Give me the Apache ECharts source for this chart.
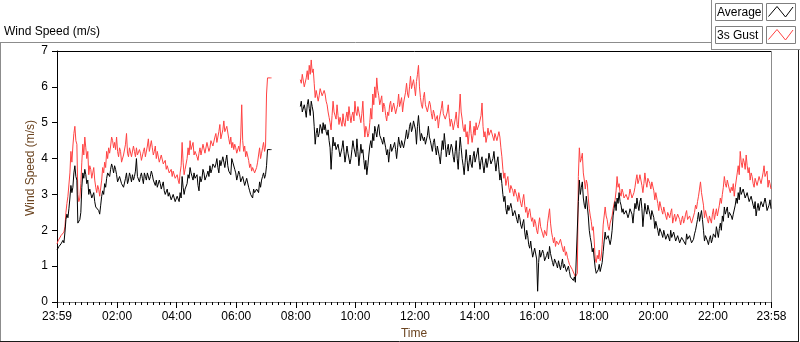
<!DOCTYPE html>
<html>
<head>
<meta charset="utf-8">
<script src="https://cdn.jsdelivr.net/npm/echarts@6/dist/echarts.min.js"></script>
<style>
html,body{margin:0;padding:0;background:#fff;}
#chart{width:800px;height:342px;}
</style>
</head>
<body>
<div id="chart"></div>
<script>
// Sampling interval of the record, minutes after 23:59 (index * step)
const sampleStepMin = 2;

// Tick positions (minutes after 23:59) and their labels
const timeTickMinutes = [0, 121, 241, 361, 481, 601, 721, 841, 961, 1081, 1201, 1321, 1439];
const timeTickLabels = ['23:59', '02:00', '04:00', '06:00', '08:00', '10:00', '12:00', '14:00', '16:00', '18:00', '20:00', '22:00', '23:58'];
const yTickValues = [0, 1, 2, 3, 4, 5, 6, 7];

const seriesNames = ['Average', '3s Gust'];

// Average wind speed (m/s), one value every 2 minutes from 23:59
const average = [
  1.45,1.4,1.55,1.5,1.62,1.58,1.72,1.65,1.95,2.3,2.45,2.35,2.6,2.9,3.25,3.05,3.2,3.6,3.8,3.5,
  3.4,2.2,2.15,2.3,2.5,3.2,3.6,3.45,3.7,3.55,3.3,3.4,3.0,3.15,3.2,2.9,2.95,3.05,2.8,2.65,
  2.6,2.7,2.55,2.45,2.7,2.95,3.1,3.0,3.3,3.2,3.45,3.6,3.6,3.5,3.7,3.85,3.75,3.6,3.8,3.7,
  3.55,3.35,3.3,3.5,3.45,3.3,3.35,3.2,3.25,3.45,3.6,3.3,3.4,3.6,3.5,3.35,3.55,3.4,3.5,3.65,
  4.0,3.5,3.45,3.35,3.5,3.6,3.45,3.3,3.6,3.5,3.4,3.6,3.55,3.4,3.5,3.65,3.55,3.4,3.35,3.25,
  3.4,3.2,3.25,3.4,3.3,3.15,3.2,3.35,3.1,3.0,3.05,3.15,2.95,3.05,3.0,2.85,2.9,3.0,2.95,2.8,
  2.85,2.95,2.9,2.8,3.05,2.9,3.5,3.2,3.0,3.15,3.1,3.3,3.55,3.45,3.75,3.6,3.5,3.4,3.6,3.45,
  3.4,3.55,3.25,3.1,3.5,3.35,3.45,3.7,3.6,3.4,3.45,3.55,3.65,3.5,3.8,3.6,3.7,3.85,3.9,3.75,
  3.85,4.0,3.75,3.6,3.95,3.8,3.85,4.05,3.9,3.75,3.95,4.1,3.8,3.65,3.7,3.55,4.0,3.9,3.85,3.7,
  3.6,3.4,3.45,3.65,3.55,3.35,3.3,3.5,3.45,3.25,3.3,3.45,3.5,3.2,3.1,3.0,3.05,2.9,3.15,3.05,
  3.0,3.15,3.2,3.05,3.35,3.2,3.4,3.5,3.6,3.45,3.55,3.8,4.25,4.25,4.25,4.25,4.25,null,null,null,
  null,null,null,null,null,null,null,null,null,null,null,null,null,null,null,null,null,null,null,null,
  null,null,null,null,null,5.45,5.6,5.3,5.25,5.5,5.35,5.15,5.5,5.65,5.4,5.2,5.6,5.45,5.3,4.9,
  4.4,4.7,4.85,4.6,4.7,4.95,4.85,4.7,5.0,4.8,4.95,4.75,4.65,4.8,4.5,4.3,3.7,4.2,4.6,4.35,
  4.45,4.25,4.2,4.4,4.35,4.05,4.1,4.3,4.5,4.2,3.9,4.1,4.35,4.15,4.2,3.85,4.0,4.25,4.5,4.3,
  4.3,4.05,4.55,4.2,3.8,4.1,4.4,4.15,4.25,3.95,3.7,3.95,3.55,3.8,4.1,4.35,4.5,4.3,4.7,4.5,
  4.9,4.75,4.6,4.85,4.95,4.65,4.7,4.5,4.4,4.6,4.55,4.3,4.1,4.25,3.9,4.2,4.4,4.2,4.15,4.35,
  4.45,4.25,4.0,4.3,4.6,4.4,4.3,4.5,4.55,4.3,4.35,4.6,4.8,4.55,4.65,4.9,5.0,4.75,4.85,5.05,
  5.1,4.8,4.4,4.9,5.2,4.85,4.5,4.7,4.75,4.5,4.6,4.4,4.35,4.65,4.9,4.6,4.5,4.35,4.2,4.45,
  4.55,4.3,4.1,4.35,4.3,4.05,3.85,4.2,4.5,4.25,4.7,4.4,4.05,4.25,4.4,4.1,4.15,4.4,4.3,4.05,
  3.9,4.2,4.5,4.0,3.7,4.2,4.6,4.3,4.0,3.8,3.55,3.9,4.25,3.95,3.65,3.9,4.1,3.85,3.75,4.05,
  4.2,3.9,3.95,4.15,4.3,3.95,3.7,3.95,4.05,3.8,3.6,3.85,4.0,3.75,3.9,4.15,4.1,3.85,3.8,4.0,
  4.2,3.9,3.65,3.9,4.05,3.7,3.4,3.6,3.3,3.0,2.8,2.95,2.6,2.45,2.7,2.55,2.5,2.75,2.6,2.4,
  2.35,2.55,2.5,2.3,2.2,2.45,2.35,2.15,2.05,2.2,2.3,1.95,1.75,2.0,1.85,1.6,1.5,1.7,1.45,1.25,
  1.3,1.5,1.55,1.2,0.3,1.1,1.45,1.25,1.2,1.45,1.35,1.15,1.1,1.3,1.4,1.2,1.55,1.35,1.3,1.1,
  1.0,1.2,1.25,1.05,0.95,1.15,1.2,0.9,1.05,1.2,0.95,1.05,1.1,0.85,0.9,1.0,0.85,0.7,0.75,0.65,
  0.6,0.7,0.55,0.5,0.6,2.8,3.4,3.0,3.2,3.35,2.9,2.7,2.6,2.95,2.9,2.4,2.0,1.8,1.65,1.4,
  1.5,1.2,0.95,0.8,0.75,0.9,1.05,0.85,0.8,1.1,1.4,1.7,1.95,1.75,1.7,1.85,1.8,1.6,1.75,2.0,
  2.4,2.6,2.8,2.55,2.9,2.75,3.05,2.8,2.7,2.5,2.6,2.45,2.4,2.55,2.5,2.35,2.45,2.6,2.6,2.45,
  2.2,2.5,2.75,2.6,2.9,2.7,2.55,2.8,2.9,2.6,2.1,2.45,2.75,2.55,2.45,2.7,2.7,2.45,2.3,2.55,
  2.6,2.35,2.05,2.25,2.3,2.0,1.85,2.05,2.1,1.9,1.8,2.0,1.95,1.75,1.7,1.9,1.85,1.7,2.0,1.8,
  1.75,1.95,1.9,1.7,1.7,1.85,1.8,1.65,1.65,1.8,1.85,1.7,1.75,1.6,1.9,1.75,1.7,1.85,1.8,1.65,
  1.6,1.75,1.9,2.0,2.15,2.3,2.5,2.25,2.4,2.55,2.3,2.0,1.7,1.85,1.9,1.7,1.6,1.75,1.85,1.65,
  1.75,1.9,1.95,1.8,2.1,1.95,1.8,2.05,2.2,2.0,2.4,2.25,2.65,2.45,2.5,2.65,2.35,2.5,2.55,2.4,
  2.3,2.45,2.5,2.7,2.9,2.75,3.05,2.85,3.2,3.0,2.95,3.15,3.1,2.9,2.85,3.05,3.0,2.8,2.75,2.95,
  2.9,2.7,2.6,2.8,2.4,2.6,2.75,2.55,2.55,2.8,2.85,2.65,2.6,2.9,2.75,2.55,2.5,2.7,2.85,2.6
];

// 3 second gust (m/s), one value every 2 minutes from 23:59
const gust = [
  1.62,1.7,1.75,1.72,1.85,1.8,1.9,1.95,2.1,2.5,2.75,2.95,3.0,3.6,4.2,3.9,4.35,4.7,4.9,4.5,
  4.4,3.0,2.8,2.9,3.3,3.9,4.4,4.1,4.6,4.3,4.0,4.2,3.55,3.8,3.7,3.45,3.6,3.75,3.4,3.2,
  3.05,3.25,3.15,2.95,3.0,3.4,3.75,3.6,3.9,3.75,4.2,4.0,4.3,4.15,4.35,4.6,4.5,4.3,4.45,4.25,
  4.6,4.2,4.05,4.3,4.2,3.9,3.95,4.1,4.15,4.4,4.7,4.15,4.05,4.3,4.25,4.05,4.1,4.35,4.2,4.05,
  4.3,4.1,4.05,4.25,4.15,3.95,4.0,4.2,4.3,4.05,4.1,4.35,4.55,4.2,4.35,4.5,4.3,4.1,4.2,4.35,
  4.0,4.2,4.15,3.9,3.95,4.1,4.05,3.85,3.85,3.95,3.7,3.8,3.75,3.6,3.6,3.7,3.5,3.65,3.6,3.45,
  3.45,3.55,3.4,3.3,3.6,3.8,4.45,3.9,3.55,3.7,3.65,4.0,4.3,4.1,4.5,4.25,4.3,4.45,4.1,4.2,
  4.25,4.05,3.95,4.15,4.3,4.1,4.15,4.4,4.35,4.15,4.2,4.45,4.4,4.2,4.3,4.5,4.55,4.35,4.4,4.6,
  4.7,4.45,4.5,4.75,4.95,4.55,4.6,4.8,5.05,4.75,4.7,4.9,4.85,4.55,4.4,4.6,4.3,4.45,4.25,4.4,
  4.3,4.15,4.1,4.35,4.2,4.6,5.5,4.5,4.2,4.35,4.05,4.2,4.25,3.95,3.75,3.85,3.65,3.75,3.8,3.6,
  3.6,3.75,3.9,4.1,4.3,4.0,4.15,4.3,4.45,4.2,4.35,5.8,6.25,6.25,6.25,6.25,6.25,null,null,null,
  null,null,null,null,null,null,null,null,null,null,null,null,null,null,null,null,null,null,null,null,
  null,null,null,null,null,6.2,6.1,6.35,6.3,6.0,6.0,6.25,6.45,6.2,6.6,6.35,6.75,6.4,6.5,6.1,
  5.7,5.9,5.85,5.6,5.75,5.95,6.0,5.75,5.7,5.9,5.8,5.6,5.5,5.3,5.15,5.0,4.8,5.2,5.6,5.3,
  5.3,5.1,5.5,5.2,4.95,5.15,5.1,4.9,5.25,5.0,4.9,5.15,5.3,5.05,5.45,5.2,5.0,5.2,5.3,5.05,
  5.6,5.3,5.2,5.45,5.4,5.15,5.0,5.25,5.6,5.0,4.6,4.9,4.8,4.6,4.7,5.0,5.4,5.1,5.8,5.5,
  6.0,5.7,6.25,5.9,5.75,5.5,5.55,5.75,5.3,5.55,5.45,5.2,5.05,5.3,5.2,5.5,5.6,5.3,5.35,5.55,
  5.5,5.25,5.2,5.5,5.8,5.45,5.5,5.7,5.3,5.55,5.6,5.85,6.1,5.8,5.7,6.0,6.3,5.95,5.9,6.2,
  6.0,5.75,6.15,6.35,6.6,6.0,5.7,5.5,5.4,5.7,5.85,5.5,5.55,5.3,5.3,5.6,5.5,5.25,5.1,5.35,
  5.25,5.05,5.0,5.2,4.85,5.1,5.15,5.4,5.6,5.25,5.3,5.1,5.05,5.3,5.5,5.15,4.9,5.1,5.0,4.8,
  4.85,5.1,5.3,4.95,4.85,5.3,5.8,5.3,5.1,4.85,4.75,4.95,4.6,4.75,4.4,4.7,5.05,4.7,4.45,4.65,
  4.9,4.65,5.0,4.8,4.75,4.95,5.0,5.2,5.55,4.9,4.6,4.75,4.45,4.6,4.85,4.65,4.6,4.8,4.85,4.6,
  4.5,4.7,4.75,4.5,4.55,4.75,4.6,4.3,4.05,3.7,3.45,3.6,3.25,3.4,3.5,3.2,3.05,3.25,3.3,3.1,
  2.95,3.15,3.2,2.95,2.8,3.05,3.0,2.75,2.65,2.85,3.0,2.7,2.5,2.65,2.35,2.5,2.6,2.4,2.25,2.35,
  2.1,2.3,2.2,2.0,1.9,2.15,2.35,2.1,2.05,1.9,1.8,2.0,1.95,1.85,2.2,2.4,2.6,2.2,1.95,1.8,
  1.65,1.8,1.55,1.7,1.75,1.6,1.55,1.75,1.7,1.5,1.4,1.55,1.3,1.4,1.25,1.15,1.05,1.1,1.0,0.9,
  0.85,0.95,0.7,0.65,0.8,3.5,4.3,3.9,4.0,4.15,3.6,3.4,3.15,3.4,3.3,2.9,2.6,2.4,2.25,2.0,
  2.1,1.7,1.2,1.1,1.3,1.2,1.45,1.15,1.25,1.6,2.15,2.4,2.65,2.4,2.3,2.1,2.0,2.2,2.15,2.4,
  2.6,2.75,2.85,3.1,3.5,3.2,3.3,3.05,2.95,3.15,3.05,2.9,2.85,3.0,3.05,2.85,2.95,3.15,3.1,2.9,
  2.9,3.05,3.2,3.4,3.55,3.3,3.4,3.55,3.5,3.25,3.05,3.3,3.6,3.35,3.2,3.45,3.5,3.3,3.15,3.35,
  3.35,3.1,2.85,3.05,3.0,2.75,2.55,2.8,2.75,2.55,2.45,2.65,2.6,2.4,2.3,2.5,2.55,2.35,2.5,2.6,
  2.2,2.35,2.45,2.25,2.3,2.45,2.5,2.3,2.15,2.3,2.4,2.2,2.3,2.45,2.55,2.3,2.25,2.4,2.4,2.2,
  2.2,2.4,2.5,2.7,2.6,2.8,2.95,3.15,3.35,3.05,3.0,2.7,2.35,2.55,2.5,2.3,2.2,2.4,2.35,2.2,
  2.45,2.6,2.3,2.45,2.6,2.4,2.45,2.7,2.9,2.75,3.0,3.2,3.5,3.3,3.2,3.4,3.35,3.15,3.05,3.2,
  3.1,3.3,2.95,3.2,3.4,3.6,3.8,3.55,4.2,3.9,3.75,4.0,3.9,3.7,4.1,3.8,3.6,3.75,3.4,3.6,
  3.5,3.3,3.2,3.45,3.4,3.25,3.3,3.5,3.5,3.3,3.35,3.6,3.8,3.5,3.45,3.65,3.2,3.4,3.3,3.15
];

const FONT = 'Liberation Sans, Arial, sans-serif';
const NAME_COLOR = '#6b4420';
const FRAME_GREY = '#8c8c8c';

const toPairs = arr => arr.map((v, i) => [i * sampleStepMin, v]);

// minor ticks: 10 subdivisions between major ticks
const minorTicks = [];
for (let k = 0; k < timeTickMinutes.length - 1; k++) {
  const a = timeTickMinutes[k], b = timeTickMinutes[k + 1];
  for (let j = 1; j < 10; j++) minorTicks.push(a + (b - a) * j / 10);
}

const chart = echarts.init(document.getElementById('chart'), null, {renderer: 'canvas'});

function txt(x, y, text, opts) {
  return Object.assign({
    type: 'text', x: x, y: y, silent: true,
    style: Object.assign({
      text: text, fill: '#000', font: '12px ' + FONT,
      align: 'left', textAlign: 'left',
      verticalAlign: 'middle', textVerticalAlign: 'middle'
    }, (opts && opts.style) || {})
  }, (opts && opts.el) || {});
}
function ln(x1, y1, x2, y2, color) {
  return {type: 'line', silent: true, shape: {x1, y1, x2, y2}, style: {stroke: color, lineWidth: 1}};
}

const option = {
  animation: false,
  backgroundColor: '#ffffff',
  grid: {left: 57, top: 51, right: 28.5, bottom: 40, containLabel: false},
  xAxis: [{
    type: 'value', min: 0, max: 1439, position: 'bottom',
    axisLine: {show: true, lineStyle: {color: '#7a7a7a', width: 1}},
    axisTick: {show: true, customValues: timeTickMinutes, length: 6, lineStyle: {color: '#000'}},
    axisLabel: {
      show: true, customValues: timeTickMinutes, margin: 9,
      color: '#000', fontSize: 12, fontFamily: FONT,
      formatter: v => {
        const idx = timeTickMinutes.indexOf(Math.round(v));
        return idx >= 0 ? timeTickLabels[idx] : '';
      }
    },
    splitLine: {show: false}
  }, {
    type: 'value', min: 0, max: 1439, position: 'bottom', gridIndex: 0,
    axisLine: {show: false},
    axisTick: {show: true, customValues: minorTicks, length: 3, lineStyle: {color: '#000'}},
    axisLabel: {show: false},
    splitLine: {show: false}
  }],
  yAxis: {
    type: 'value', min: 0, max: 7, interval: 1,
    axisLine: {show: true, lineStyle: {color: '#000', width: 1}},
    axisTick: {show: true, length: 5, lineStyle: {color: '#000'}},
    axisLabel: {
      margin: 9, color: '#000', fontSize: 12, fontFamily: FONT,
      formatter: v => yTickValues.indexOf(v) >= 0 ? String(v) : ''
    },
    splitLine: {show: false}
  },
  series: [{
    name: seriesNames[1], type: 'line', xAxisIndex: 0,
    data: toPairs(gust), showSymbol: false, symbol: 'none',
    connectNulls: false,
    lineStyle: {color: '#ff4242', width: 1}, z: 2
  }, {
    name: seriesNames[0], type: 'line', xAxisIndex: 0,
    data: toPairs(average), showSymbol: false, symbol: 'none',
    connectNulls: false,
    lineStyle: {color: '#000000', width: 1}, z: 3
  }],
  graphic: {
    elements: [
      ln(0, 42.5, 711, 42.5, FRAME_GREY),
      ln(0.5, 42, 0.5, 341, FRAME_GREY),
      ln(0, 341.5, 799, 341.5, '#1a1a1a'),
      ln(798.5, 49, 798.5, 342, '#1a1a1a'),
      ln(711.5, 0, 711.5, 49, FRAME_GREY),
      ln(711, 49.5, 800, 49.5, FRAME_GREY),
      ln(57, 51.5, 772, 51.5, '#000'),
      ln(771.5, 51, 771.5, 302, FRAME_GREY),
      {type: 'rect', silent: true, shape: {x: 715.5, y: 3.5, width: 47, height: 17}, style: {fill: '#fff', stroke: '#7f7f7f', lineWidth: 1}},
      {type: 'rect', silent: true, shape: {x: 766.5, y: 3.5, width: 29, height: 17}, style: {fill: '#fff', stroke: '#7f7f7f', lineWidth: 1}},
      {type: 'rect', silent: true, shape: {x: 715.5, y: 26.5, width: 47, height: 17}, style: {fill: '#fff', stroke: '#7f7f7f', lineWidth: 1}},
      {type: 'rect', silent: true, shape: {x: 766.5, y: 26.5, width: 29, height: 17}, style: {fill: '#fff', stroke: '#7f7f7f', lineWidth: 1}},
      {type: 'polyline', silent: true, shape: {points: [[768.5, 16.5], [777, 6.5], [785.5, 17], [793, 7]]}, style: {stroke: '#000', lineWidth: 1, fill: null}},
      {type: 'polyline', silent: true, shape: {points: [[768.5, 39.5], [777, 29.5], [785.5, 40], [793, 30]]}, style: {stroke: '#ff4242', lineWidth: 1, fill: null}},
      txt(717, 12.5, seriesNames[0]),
      txt(717, 35.5, seriesNames[1]),
      txt(4, 32, 'Wind Speed (m/s)'),
      txt(31, 168, 'Wind Speed (m/s)', {
        el: {rotation: Math.PI / 2},
        style: {fill: NAME_COLOR, align: 'center', textAlign: 'center'}
      }),
      txt(414, 333.5, 'Time', {style: {fill: NAME_COLOR, align: 'center', textAlign: 'center'}})
    ]
  }
};

chart.setOption(option);
</script>
</body>
</html>
